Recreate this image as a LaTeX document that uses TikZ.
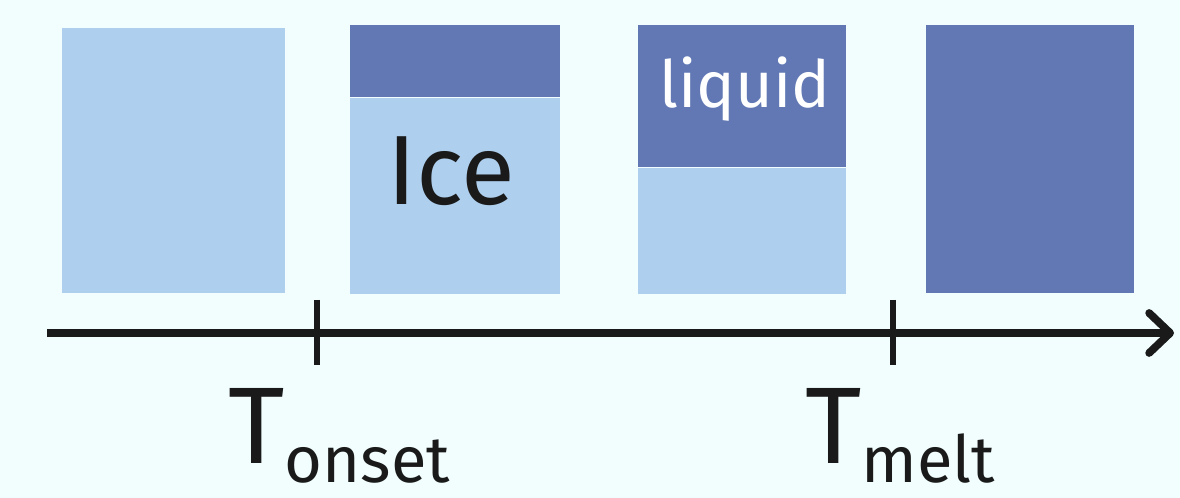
\documentclass[tikz,border=0pt]{standalone}
\usepackage{fontspec}
\setmainfont{Fira Sans}
\usetikzlibrary{arrows.meta}
\definecolor{bg}{HTML}{F2FEFE}
\definecolor{icec}{HTML}{AECFEE}
\definecolor{liqc}{HTML}{6178B4}
\definecolor{ink}{HTML}{1A1A1A}
\tikzset{
  >= {Straight Barb[length=0.42cm,width=0.8cm,line cap=round,line join=round]},
  ic/.style={fill=icec, inner sep=0pt, anchor=north west, minimum width=#1},
  lq/.style={fill=liqc, inner sep=0pt, anchor=north west, minimum width=#1},
  ax/.style={draw=ink, line width=4.4pt},
  tk/.style={draw=ink, line width=3.2pt},
  lb/.style={anchor=base west, inner sep=0pt, text=ink}
}
\newcommand{\tlabel}[1]{{\fontsize{62}{62}\selectfont T}\raisebox{-0.38cm}{\fontsize{37}{37}\selectfont #1}}
\begin{document}
\begin{tikzpicture}
  \useasboundingbox[fill=bg] (0,0) rectangle (23.6,9.96);
  % solid
  \node[ic=4.46cm, minimum height=5.3cm] (s1) at (1.24,9.4) {};
  % onset
  \node[lq=4.2cm, minimum height=1.44cm] (l2) at (7.0,9.46) {};
  \node[ic=4.2cm, minimum height=3.92cm] (s2) at (l2.south west) {};
  % partly molten
  \node[lq=4.16cm, minimum height=2.84cm] (l3) at (12.76,9.46) {};
  \node[ic=4.16cm, minimum height=2.52cm] (s3) at (l3.south west) {};
  % molten
  \node[lq=4.16cm, minimum height=5.36cm] (l4) at (18.52,9.46) {};
  \node[lb, font=\fontsize{56}{56}\selectfont] (ice) at (7.74,5.86) {Ice};
  \node[lb, text=white, font=\fontsize{37}{37}\selectfont] (liq) at (13.18,7.8) {liquid};
  % axis
  \coordinate (a0) at (0.94,3.3);
  \coordinate (a1) at (23.48,3.3);
  \draw[ax, ->] (a0) -- (a1);
  \coordinate (t1) at (6.34,3.3);
  \coordinate (t2) at (17.86,3.3);
  \draw[tk] ([yshift=0.66cm]t1) -- ([yshift=-0.64cm]t1);
  \draw[tk] ([yshift=0.66cm]t2) -- ([yshift=-0.64cm]t2);
  \node[lb] (ton) at (4.56,0.68) {\tlabel{onset}};
  \node[lb] (tme) at (16.1,0.68) {\tlabel{melt}};
\end{tikzpicture}
\end{document}
